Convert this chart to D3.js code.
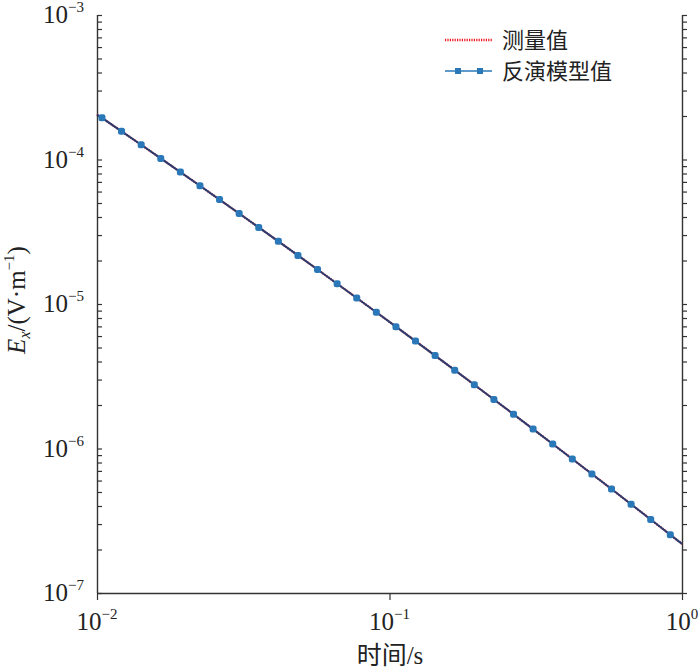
<!DOCTYPE html>
<html>
<head>
<meta charset="utf-8">
<script src="https://cdn.jsdelivr.net/npm/d3@7"></script>
<style>
  html, body { margin: 0; padding: 0; background: #fff; }
  svg { display: block; }
</style>
</head>
<body>
<svg id="chart" width="700" height="672"></svg>
<script>
// ---- data ----
const seriesNames = ["测量值", "反演模型值"];
const times = [0.01, 0.0104, 0.01213, 0.01416, 0.01652, 0.01928, 0.02249, 0.02624, 0.03062, 0.03573,
  0.04169, 0.04864, 0.05675, 0.06622, 0.07727, 0.09016, 0.1052, 0.1227, 0.1432, 0.1671,
  0.1950, 0.2275, 0.2655, 0.3097, 0.3614, 0.4217, 0.4920, 0.5741, 0.6699, 0.7816, 0.9120, 1.0];
const measured = [2.05e-4, 1.94e-4, 1.567e-4, 1.264e-4, 1.017e-4, 8.18e-5, 6.58e-5, 5.28e-5, 4.23e-5, 3.39e-5,
  2.713e-5, 2.169e-5, 1.732e-5, 1.382e-5, 1.101e-5, 8.77e-6, 6.97e-6, 5.54e-6, 4.395e-6, 3.484e-6,
  2.76e-6, 2.183e-6, 1.725e-6, 1.362e-6, 1.074e-6, 8.47e-7, 6.66e-7, 5.24e-7, 4.116e-7, 3.229e-7, 2.531e-7, 2.19e-7];
const model = [2.05e-4, 1.942e-4, 1.567e-4, 1.264e-4, 1.017e-4, 8.182e-5, 6.576e-5, 5.277e-5, 4.232e-5, 3.39e-5,
  2.713e-5, 2.169e-5, 1.732e-5, 1.382e-5, 1.101e-5, 8.766e-6, 6.972e-6, 5.538e-6, 4.395e-6, 3.484e-6,
  2.76e-6, 2.183e-6, 1.725e-6, 1.362e-6, 1.074e-6, 8.467e-7, 6.664e-7, 5.238e-7, 4.116e-7, 3.229e-7, 2.531e-7, 2.188e-7];
// indices of model points that carry a marker
const markerIdx = d3.range(1, 31);
const xTicks = [1e-2, 1e-1, 1];
const xTickExp = ["−2", "−1", "0"];
const yTicks = [1e-3, 1e-4, 1e-5, 1e-6, 1e-7];
const yTickExp = ["−3", "−4", "−5", "−6", "−7"];

// ---- layout ----
const svg = d3.select("#chart");
const L = 97, R = 682, T = 15, B = 593;
const x = d3.scaleLog().domain([1e-2, 1]).range([L, R]);
const y = d3.scaleLog().domain([1e-7, 1e-3]).range([B, T]);
const axisColor = "#333";
const serif = "'Liberation Serif','Times New Roman',serif";
const cjk = "'Noto Sans CJK SC','Noto Sans CJK JP',sans-serif";

// minor ticks for y
const yMinor = [];
for (let e = -7; e < -3; e++) for (let m = 2; m <= 9; m++) yMinor.push(m * Math.pow(10, e));
const yAll = yTicks.concat(yMinor);

// left axis
const gL = svg.append("g").attr("transform", `translate(${L},0)`)
  .call(d3.axisRight(y).tickValues(yAll).tickSize(5).tickFormat(""));
// right axis
const gR = svg.append("g").attr("transform", `translate(${R},0)`)
  .call(d3.axisRight(y).tickValues(yAll).tickSize(5).tickFormat(""));
// bottom axis
const gB = svg.append("g").attr("transform", `translate(0,${B})`)
  .call(d3.axisBottom(x).tickValues(xTicks).tickSize(7).tickFormat(""));
[gL, gR, gB].forEach(g => {
  g.select(".domain").attr("stroke", axisColor).attr("stroke-width", 1.4);
  g.selectAll(".tick line").attr("stroke", axisColor).attr("stroke-width", 1.2);
});
gL.select(".domain").attr("d", `M0.5,${B}V${T}`);
gR.select(".domain").attr("d", `M0.5,${B}V${T}`);
gB.select(".domain").attr("d", `M${L},0.5H${R}`);

// y tick labels
yTicks.forEach((v, i) => {
  const t = svg.append("text").attr("x", 84).attr("y", y(v) + 8)
    .attr("text-anchor", "end").attr("font-family", serif).attr("font-size", 25).attr("fill", "#222");
  t.append("tspan").text("10");
  t.append("tspan").attr("dy", -11).attr("font-size", 15).text(yTickExp[i]);
});
// x tick labels
xTicks.forEach((v, i) => {
  const t = svg.append("text").attr("x", x(v)).attr("y", 630)
    .attr("text-anchor", "middle").attr("font-family", serif).attr("font-size", 25).attr("fill", "#222");
  t.append("tspan").text("10");
  t.append("tspan").attr("dy", -11).attr("font-size", 15).text(xTickExp[i]);
});

// axis titles
const yt = svg.append("text").attr("transform", `translate(25,300) rotate(-90)`)
  .attr("text-anchor", "middle").attr("font-family", serif).attr("font-size", 25).attr("fill", "#222");
yt.append("tspan").attr("font-style", "italic").text("E");
yt.append("tspan").attr("font-style", "italic").attr("font-size", 16).attr("dy", 5).text("x");
yt.append("tspan").attr("dy", -5).text("/(V·m");
yt.append("tspan").attr("font-size", 15).attr("dy", -11).text("−1");
yt.append("tspan").attr("dy", 11).text(")");

const xt = svg.append("text").attr("x", 390).attr("y", 664)
  .attr("text-anchor", "middle").attr("font-size", 25).attr("fill", "#222");
xt.append("tspan").attr("font-family", cjk).text("时间");
xt.append("tspan").attr("font-family", serif).text("/s");

// ---- series ----
const line = d3.line().x(d => x(d[0])).y(d => y(d[1]));
const measPts = times.map((t, i) => [t, measured[i]]);
const modelPts = times.map((t, i) => [t, model[i]]);
const red = "#e8141c", blue = "#2a78b8";

svg.append("path").datum(measPts).attr("d", line)
  .attr("fill", "none").attr("stroke", red).attr("stroke-width", 2.2).attr("stroke-dasharray", "1.2,1.2");
svg.append("path").datum(modelPts).attr("d", line)
  .attr("fill", "none").attr("stroke", "#2b3b6e").attr("stroke-width", 2);
svg.append("g").selectAll("rect").data(markerIdx.map(i => modelPts[i])).join("rect")
  .attr("x", d => x(d[0]) - 3.5).attr("y", d => y(d[1]) - 3.5)
  .attr("width", 7).attr("height", 7).attr("rx", 2.5).attr("fill", blue);

// ---- legend ----
const lg = svg.append("g");
const rowY = [40, 71];
lg.append("line").attr("x1", 445).attr("x2", 492).attr("y1", rowY[0]).attr("y2", rowY[0])
  .attr("stroke", red).attr("stroke-width", 2.4).attr("stroke-dasharray", "1.2,1.2");
lg.append("line").attr("x1", 445).attr("x2", 492).attr("y1", rowY[1]).attr("y2", rowY[1])
  .attr("stroke", blue).attr("stroke-width", 1.6);
[458, 480].forEach(px => lg.append("rect").attr("x", px - 3).attr("y", rowY[1] - 3)
  .attr("width", 6).attr("height", 6).attr("fill", blue));
seriesNames.forEach((n, i) => {
  lg.append("text").attr("x", 502).attr("y", rowY[i] + 8)
    .attr("font-family", cjk).attr("font-size", 22).attr("fill", "#222").text(n);
});
</script>
</body>
</html>
